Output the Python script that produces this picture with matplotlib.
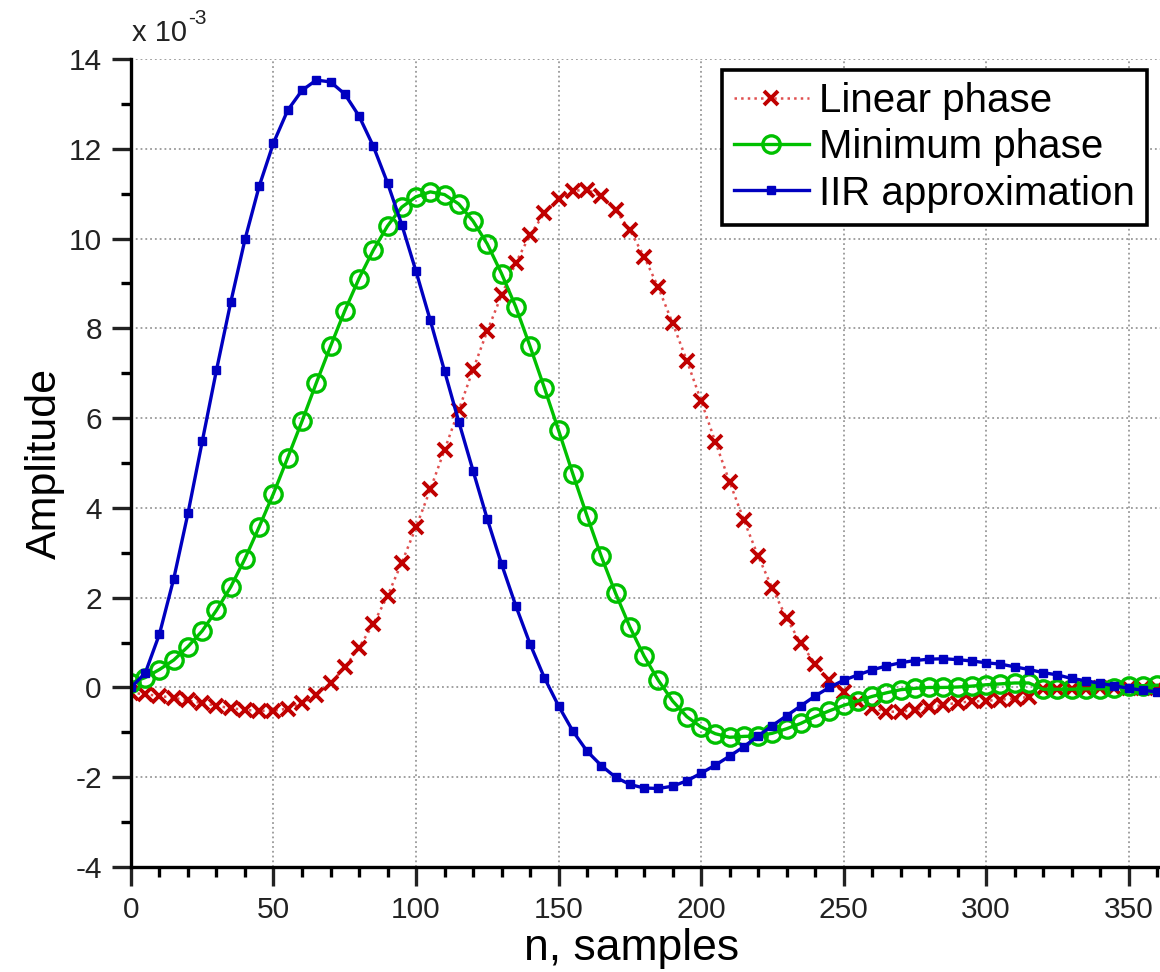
import numpy as np
import matplotlib
matplotlib.use("Agg")
import matplotlib.pyplot as plt
from matplotlib.ticker import MultipleLocator

plt.rcParams['font.family'] = ['Liberation Sans', 'DejaVu Sans']
plt.rcParams['axes.unicode_minus'] = False

# sample index, step 5
n = np.arange(0, 361, 5)

# amplitudes in units of 1e-3
linear_phase = [
    -0.12, -0.15, -0.19, -0.23, -0.29, -0.35, -0.41, -0.46, -0.50, -0.52,
    -0.52, -0.47, -0.35, -0.17, 0.09, 0.45, 0.89, 1.41, 2.04, 2.78,
    3.57, 4.41, 5.29, 6.18, 7.08, 7.94, 8.74, 9.46, 10.08, 10.56,
    10.89, 11.06, 11.09, 10.94, 10.63, 10.19, 9.60, 8.91, 8.12, 7.28,
    6.39, 5.47, 4.58, 3.73, 2.93, 2.21, 1.54, 0.98, 0.53, 0.16,
    -0.11, -0.33, -0.45, -0.54, -0.54, -0.50, -0.44, -0.39, -0.34, -0.31,
    -0.30, -0.27, -0.25, -0.21, -0.04, -0.04, -0.03, -0.03, -0.02, -0.02,
    -0.02, -0.01, -0.01,
]
minimum_phase = [
    0.10, 0.22, 0.40, 0.61, 0.91, 1.26, 1.72, 2.24, 2.87, 3.58,
    4.32, 5.12, 5.93, 6.78, 7.60, 8.39, 9.11, 9.74, 10.28, 10.70,
    10.93, 11.04, 10.98, 10.77, 10.39, 9.88, 9.22, 8.48, 7.60, 6.68,
    5.73, 4.76, 3.82, 2.92, 2.10, 1.35, 0.70, 0.16, -0.30, -0.65,
    -0.88, -1.03, -1.11, -1.09, -1.08, -1.02, -0.92, -0.80, -0.65, -0.52,
    -0.40, -0.30, -0.20, -0.12, -0.05, -0.02, 0.00, 0.00, 0.01, 0.03,
    0.06, 0.08, 0.10, 0.10, -0.04, -0.04, -0.04, -0.03, -0.03, -0.02,
    0.03, 0.04, 0.05,
]
iir_approx = [
    0.00, 0.32, 1.19, 2.42, 3.88, 5.48, 7.07, 8.58, 9.98, 11.17,
    12.13, 12.86, 13.30, 13.53, 13.49, 13.22, 12.73, 12.06, 11.24, 10.31,
    9.27, 8.18, 7.05, 5.92, 4.83, 3.75, 2.75, 1.82, 0.97, 0.22,
    -0.41, -0.97, -1.42, -1.74, -2.00, -2.16, -2.24, -2.25, -2.20, -2.08,
    -1.91, -1.73, -1.53, -1.32, -1.08, -0.85, -0.63, -0.41, -0.19, 0.00,
    0.16, 0.28, 0.39, 0.48, 0.55, 0.60, 0.63, 0.64, 0.62, 0.59,
    0.55, 0.52, 0.46, 0.40, 0.33, 0.28, 0.20, 0.15, 0.09, 0.04,
    -0.02, -0.06, -0.10,
]

fig = plt.figure(figsize=(11.6, 9.72), dpi=100)
ax = fig.add_axes([0.1129, 0.108, 0.8871, 0.8313])

ax.plot(n, linear_phase, linestyle=':', color='#E05050', linewidth=1.8,
        marker='x', markersize=9.5, markeredgewidth=2.8,
        markeredgecolor='#C00000', label='Linear phase')
ax.plot(n, minimum_phase, linestyle='-', color='#00C000', linewidth=2.4,
        marker='o', markersize=12.5, markeredgewidth=2.4,
        markerfacecolor='none', markeredgecolor='#00C000', label='Minimum phase')
ax.plot(n, iir_approx, linestyle='-', color='#0000C0', linewidth=2.4,
        marker='s', markersize=6, markeredgewidth=1.0,
        markerfacecolor='#0000C0', markeredgecolor='#0000C0', label='IIR approximation')

ax.set_xlim(0, 361)
ax.set_ylim(-4, 14)
ax.xaxis.set_major_locator(MultipleLocator(50))
ax.xaxis.set_minor_locator(MultipleLocator(10))
ax.yaxis.set_major_locator(MultipleLocator(2))
ax.yaxis.set_minor_locator(MultipleLocator(1))

ax.spines['top'].set_visible(False)
ax.spines['right'].set_visible(False)
ax.spines['left'].set_linewidth(2.4)
ax.spines['bottom'].set_linewidth(2.4)
ax.tick_params(which='major', direction='out', length=14, width=2.4,
               labelsize=21.5, pad=7, colors='#222222')
ax.tick_params(which='minor', direction='out', length=7, width=2.4)
ax.grid(True, which='major', linestyle=':', color='#999999', linewidth=1.3)

ax.set_xlabel('n, samples', fontsize=32)
ax.set_ylabel('Amplitude', fontsize=31)
ax.xaxis.set_label_coords(0.486, -0.076)
ax.yaxis.set_label_coords(-0.064, 0.5)

# exponent label, drawn with a plain hyphen like the original
ax.annotate('x 10', xy=(0.0, 1.0), xycoords='axes fraction',
            xytext=(1, 9), textcoords='offset points',
            fontsize=21, ha='left', va='bottom', color='#222222')
ax.annotate('-3', xy=(0.0, 1.0), xycoords='axes fraction',
            xytext=(41, 22), textcoords='offset points',
            fontsize=15, ha='left', va='bottom', color='#222222')

leg = ax.legend(loc='upper right', bbox_to_anchor=(0.987, 0.986),
                borderaxespad=0, fontsize=29, fancybox=False, framealpha=1,
                edgecolor='black', handlelength=1.85, handletextpad=0.25,
                labelspacing=0.2, borderpad=0.3)
leg.get_frame().set_linewidth(2.6)

fig.savefig('out.png', dpi=100)
